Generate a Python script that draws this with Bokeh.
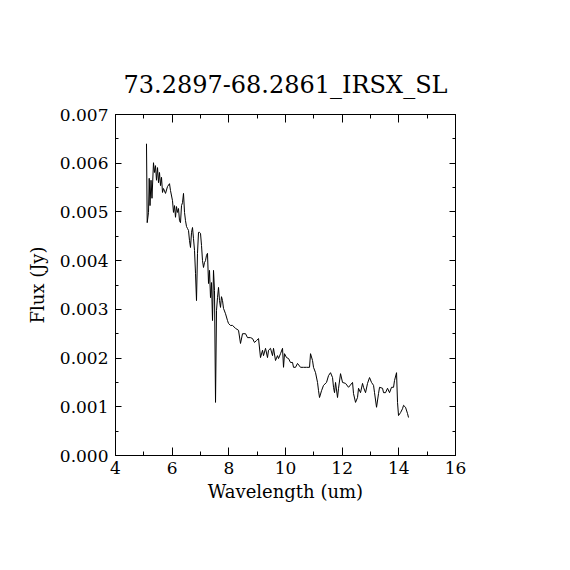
from bokeh.plotting import figure
from bokeh.models import LinearAxis, Range1d, SingleIntervalTicker, NumeralTickFormatter
from bokeh.embed import file_html
from bokeh.resources import INLINE

title_text = "73.2897-68.2861_IRSX_SL"
x_label = "Wavelength (um)"
y_label = "Flux (Jy)"

wavelength = [5.094, 5.119, 5.165, 5.190, 5.218, 5.253, 5.288, 5.341, 5.377, 5.412,
              5.447, 5.483, 5.518, 5.553, 5.588, 5.624, 5.659, 5.694, 5.765, 5.835,
              5.906, 5.941, 6.012, 6.047, 6.083, 6.118, 6.153, 6.188, 6.224, 6.259,
              6.294, 6.330, 6.365, 6.400, 6.436, 6.471, 6.506, 6.541, 6.577, 6.612,
              6.647, 6.683, 6.718, 6.753, 6.789, 6.824, 6.859, 6.894, 6.930, 6.965,
              7.000, 7.036, 7.071, 7.106, 7.141, 7.177, 7.212, 7.247, 7.283, 7.318,
              7.353, 7.389, 7.424, 7.459, 7.494, 7.530, 7.565, 7.600, 7.636, 7.671,
              7.706, 7.741, 7.777, 7.812, 7.883, 7.953, 7.989, 8.059, 8.130, 8.236,
              8.342, 8.412, 8.483, 8.589, 8.659, 8.765, 8.836, 8.906, 8.977, 9.048,
              9.118, 9.189, 9.224, 9.295, 9.365, 9.401, 9.471, 9.542, 9.577, 9.648,
              9.718, 9.754, 9.824, 9.895, 9.930, 9.965, 10.036, 10.107, 10.177, 10.248,
              10.283, 10.354, 10.424, 10.530, 10.636, 10.742, 10.848, 10.883, 10.954, 10.989,
              11.060, 11.130, 11.166, 11.201, 11.272, 11.342, 11.448, 11.519, 11.589, 11.660,
              11.695, 11.730, 11.766, 11.836, 11.872, 11.942, 12.013, 12.119, 12.225, 12.366,
              12.401, 12.472, 12.542, 12.578, 12.648, 12.719, 12.754, 12.825, 12.895, 12.966,
              13.036, 13.107, 13.142, 13.213, 13.283, 13.319, 13.425, 13.460, 13.531, 13.601,
              13.672, 13.742, 13.813, 13.848, 13.919, 13.954, 13.989, 14.060, 14.130, 14.166,
              14.236, 14.307, 14.342]

flux = [0.00640, 0.00478, 0.00499, 0.00569, 0.00513, 0.00565, 0.00528, 0.00601, 0.00581, 0.00595,
        0.00565, 0.00591, 0.00560, 0.00581, 0.00554, 0.00571, 0.00540, 0.00548, 0.00538, 0.00552,
        0.00558, 0.00544, 0.00523, 0.00499, 0.00513, 0.00489, 0.00511, 0.00499, 0.00507, 0.00482,
        0.00478, 0.00513, 0.00519, 0.00538, 0.00499, 0.00482, 0.00470, 0.00466, 0.00462, 0.00441,
        0.00427, 0.00458, 0.00468, 0.00445, 0.00421, 0.00374, 0.00318, 0.00415, 0.00458, 0.00458,
        0.00456, 0.00431, 0.00400, 0.00386, 0.00396, 0.00400, 0.00411, 0.00415, 0.00353, 0.00380,
        0.00324, 0.00355, 0.00277, 0.00380, 0.00339, 0.00109, 0.00298, 0.00324, 0.00345, 0.00318,
        0.00304, 0.00326, 0.00318, 0.00302, 0.00291, 0.00277, 0.00271, 0.00267, 0.00267, 0.00261,
        0.00257, 0.00230, 0.00250, 0.00250, 0.00242, 0.00242, 0.00240, 0.00232, 0.00236, 0.00240,
        0.00201, 0.00216, 0.00205, 0.00220, 0.00201, 0.00216, 0.00220, 0.00205, 0.00220, 0.00195,
        0.00205, 0.00199, 0.00209, 0.00220, 0.00181, 0.00209, 0.00201, 0.00199, 0.00191, 0.00191,
        0.00181, 0.00181, 0.00189, 0.00181, 0.00181, 0.00181, 0.00181, 0.00209, 0.00195, 0.00181,
        0.00170, 0.00150, 0.00133, 0.00119, 0.00133, 0.00144, 0.00150, 0.00164, 0.00170, 0.00160,
        0.00140, 0.00129, 0.00150, 0.00119, 0.00138, 0.00168, 0.00150, 0.00148, 0.00140, 0.00150,
        0.00127, 0.00109, 0.00119, 0.00138, 0.00129, 0.00148, 0.00140, 0.00129, 0.00148, 0.00160,
        0.00150, 0.00144, 0.00129, 0.00099, 0.00127, 0.00140, 0.00138, 0.00129, 0.00129, 0.00138,
        0.00129, 0.00140, 0.00140, 0.00154, 0.00170, 0.00109, 0.00082, 0.00088, 0.00096, 0.00103,
        0.00099, 0.00086, 0.00078]

x_start, x_end = 4, 16
y_start, y_end = 0.0, 0.007

FONT = "DejaVu Serif"

p = figure(width=554, height=554,
           x_range=Range1d(x_start, x_end), y_range=Range1d(y_start, y_end),
           output_backend="svg", toolbar_location=None,
           title=title_text, x_axis_label=x_label, y_axis_label=y_label,
           min_border_left=115, min_border_right=99,
           min_border_top=114, min_border_bottom=99)

p.background_fill_color = "white"
p.border_fill_color = "white"
p.outline_line_color = "black"
p.outline_line_width = 1
p.outline_line_alpha = 1
p.xgrid.visible = False
p.ygrid.visible = False

p.title.text_font = FONT
p.title.text_font_style = "normal"
p.title.text_font_size = "24px"
p.title.align = "center"
p.title.text_color = "black"
p.title.standoff = 31


def style_axis(ax, ticker, major_len, minor_len, show_labels, formatter=None):
    ax.ticker = ticker
    ax.axis_line_color = None
    ax.major_tick_in = major_len
    ax.major_tick_out = 0
    ax.minor_tick_in = minor_len
    ax.minor_tick_out = 0
    ax.major_tick_line_color = "black"
    ax.minor_tick_line_color = "black"
    ax.major_label_text_font = FONT
    ax.major_label_text_font_size = "17px"
    ax.major_label_text_color = "black"
    ax.axis_label_text_font = FONT
    ax.axis_label_text_font_style = "normal"
    ax.axis_label_text_font_size = "18px"
    ax.axis_label_text_color = "black"
    if formatter is not None:
        ax.formatter = formatter
    if not show_labels:
        ax.major_label_text_font_size = "0px"
        ax.major_label_text_alpha = 0


p.xaxis[0].major_label_standoff = 6
p.xaxis[0].axis_label_standoff = 4
p.yaxis[0].major_label_standoff = 7
p.yaxis[0].axis_label_standoff = 9

style_axis(p.xaxis[0], SingleIntervalTicker(interval=2, num_minor_ticks=2), 8, 4, True)
style_axis(p.yaxis[0], SingleIntervalTicker(interval=0.001, num_minor_ticks=2), 6, 3, True,
           NumeralTickFormatter(format="0.000"))

top_axis = LinearAxis()
style_axis(top_axis, SingleIntervalTicker(interval=2, num_minor_ticks=2), 8, 4, False)
p.add_layout(top_axis, "above")

right_axis = LinearAxis()
style_axis(right_axis, SingleIntervalTicker(interval=0.001, num_minor_ticks=2), 6, 3, False)
p.add_layout(right_axis, "right")

p.line(wavelength, flux, line_color="black", line_width=1)

open("out.html", "w").write(file_html(p, INLINE))
